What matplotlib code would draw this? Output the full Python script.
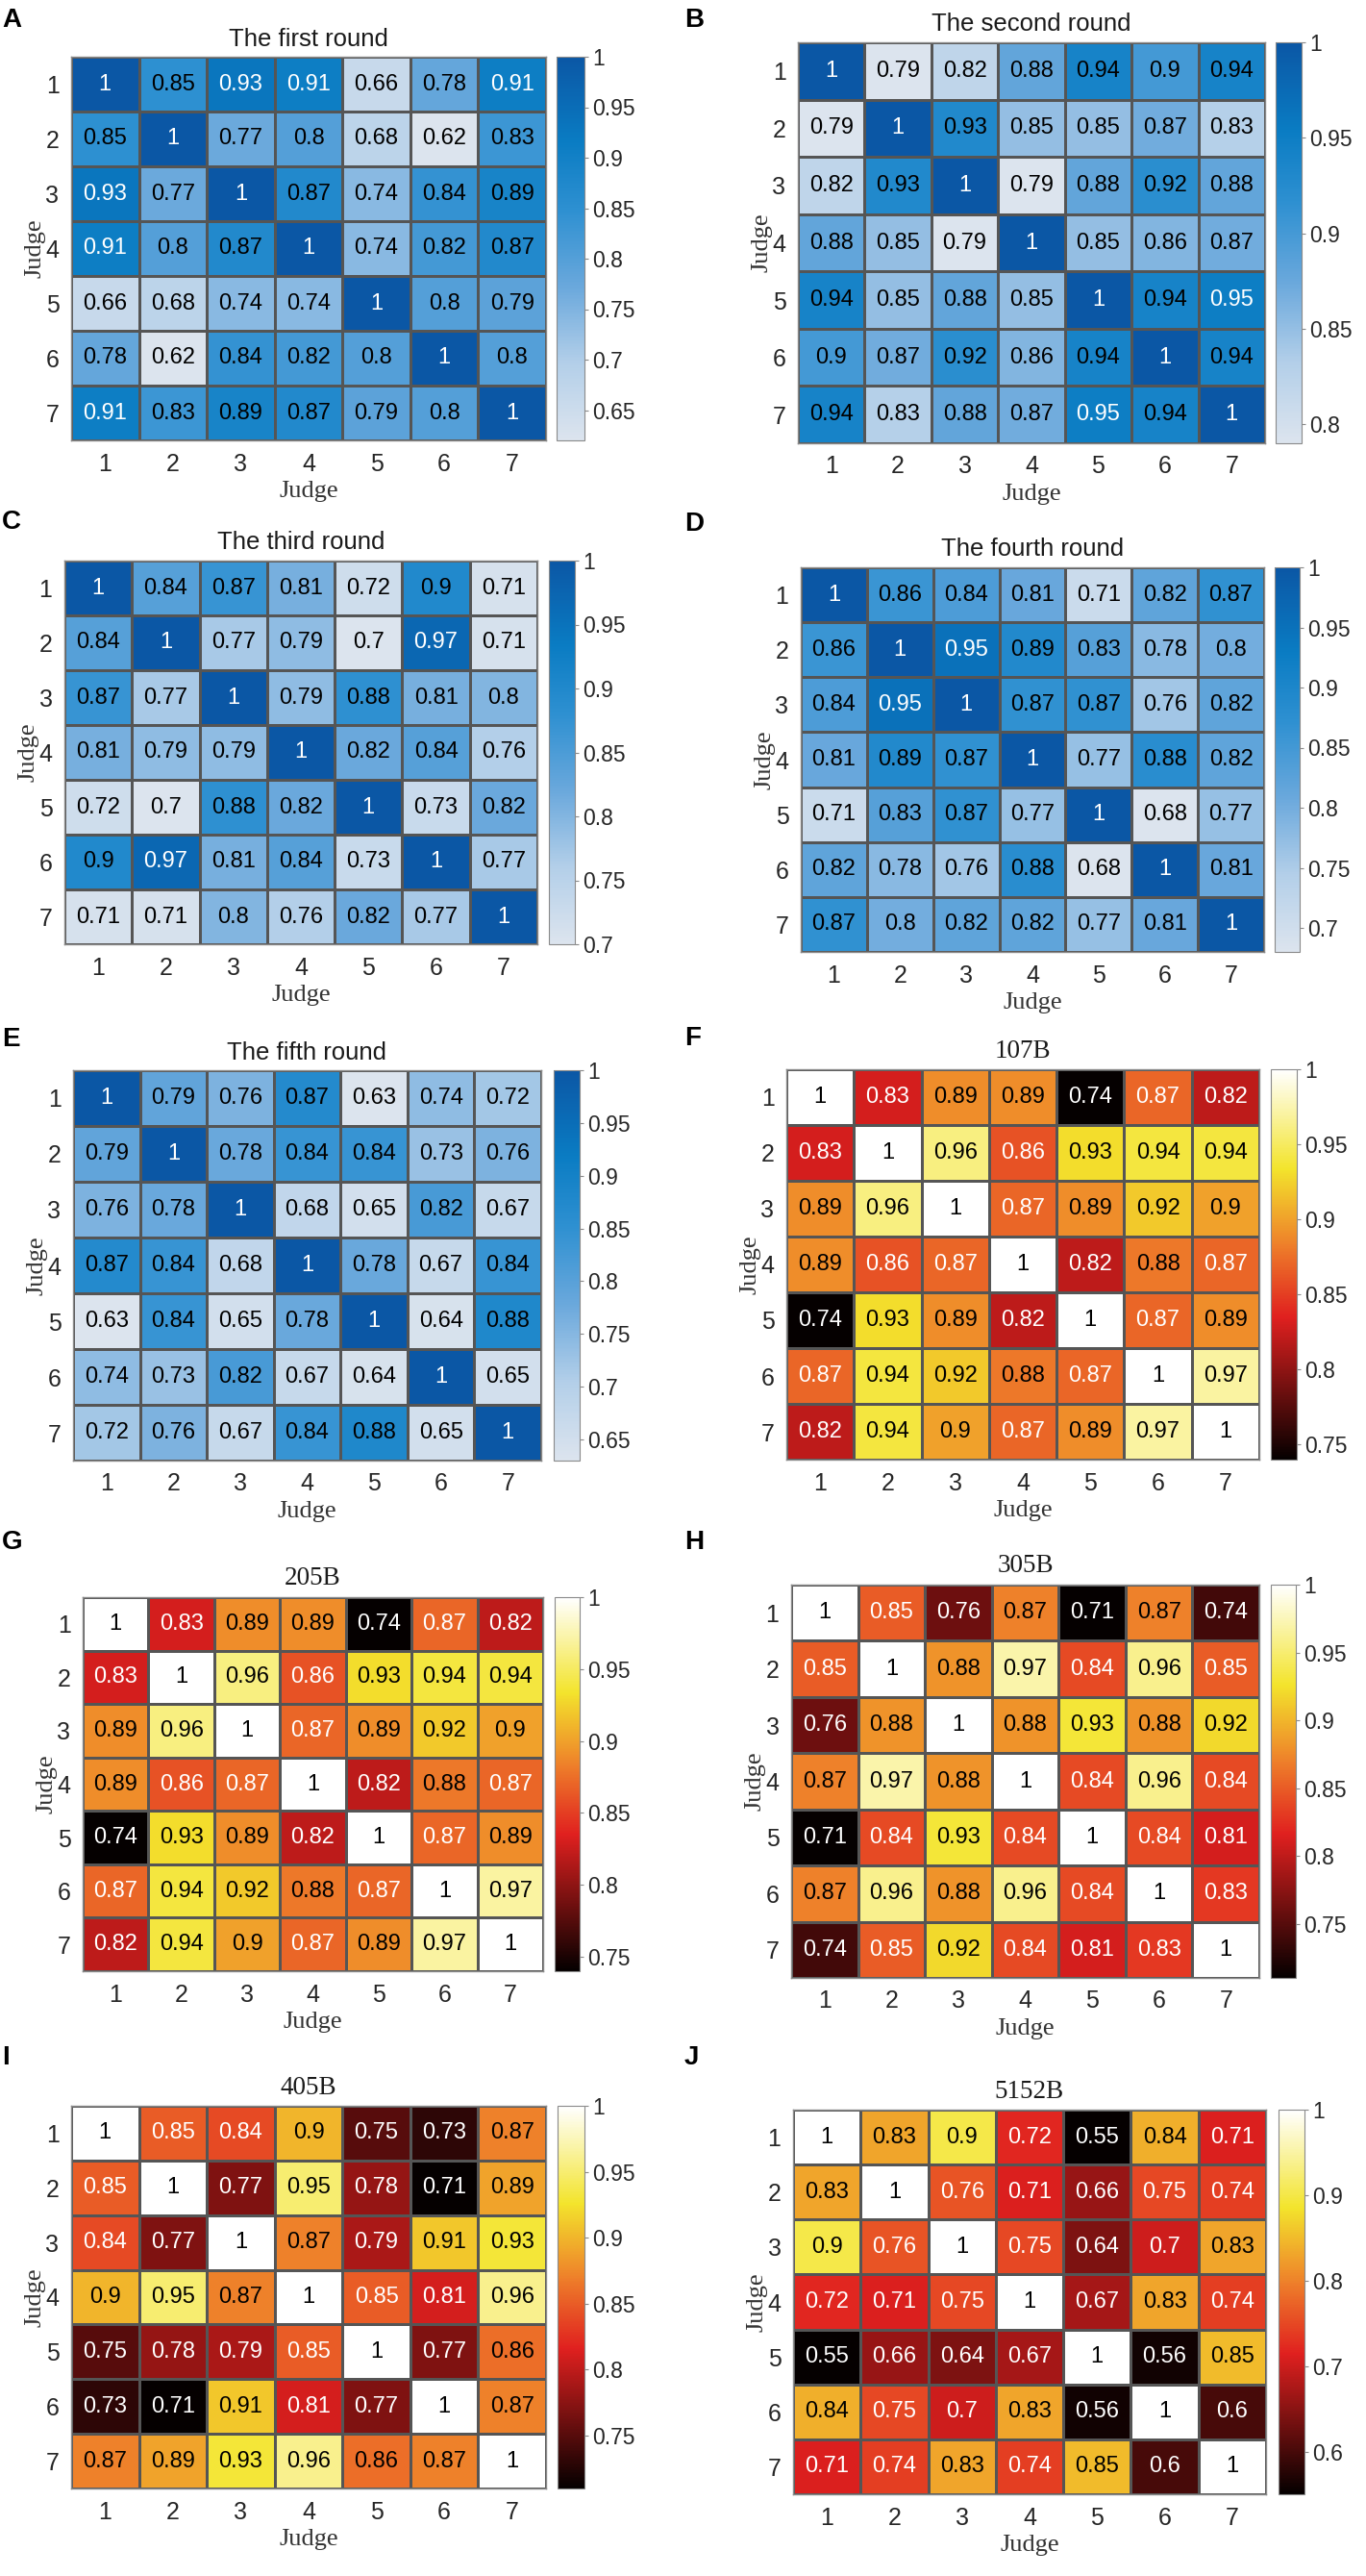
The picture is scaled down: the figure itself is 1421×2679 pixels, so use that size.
import numpy as np
import matplotlib
matplotlib.use("Agg")
import matplotlib.pyplot as plt
from matplotlib.colors import LinearSegmentedColormap
from matplotlib.ticker import MultipleLocator, FormatStrFormatter

judges = [1, 2, 3, 4, 5, 6, 7]

round1 = [[1, 0.85, 0.93, 0.91, 0.66, 0.78, 0.91],
          [0.85, 1, 0.77, 0.8, 0.68, 0.62, 0.83],
          [0.93, 0.77, 1, 0.87, 0.74, 0.84, 0.89],
          [0.91, 0.8, 0.87, 1, 0.74, 0.82, 0.87],
          [0.66, 0.68, 0.74, 0.74, 1, 0.8, 0.79],
          [0.78, 0.62, 0.84, 0.82, 0.8, 1, 0.8],
          [0.91, 0.83, 0.89, 0.87, 0.79, 0.8, 1]]

round2 = [[1, 0.79, 0.82, 0.88, 0.94, 0.9, 0.94],
          [0.79, 1, 0.93, 0.85, 0.85, 0.87, 0.83],
          [0.82, 0.93, 1, 0.79, 0.88, 0.92, 0.88],
          [0.88, 0.85, 0.79, 1, 0.85, 0.86, 0.87],
          [0.94, 0.85, 0.88, 0.85, 1, 0.94, 0.95],
          [0.9, 0.87, 0.92, 0.86, 0.94, 1, 0.94],
          [0.94, 0.83, 0.88, 0.87, 0.95, 0.94, 1]]

round3 = [[1, 0.84, 0.87, 0.81, 0.72, 0.9, 0.71],
          [0.84, 1, 0.77, 0.79, 0.7, 0.97, 0.71],
          [0.87, 0.77, 1, 0.79, 0.88, 0.81, 0.8],
          [0.81, 0.79, 0.79, 1, 0.82, 0.84, 0.76],
          [0.72, 0.7, 0.88, 0.82, 1, 0.73, 0.82],
          [0.9, 0.97, 0.81, 0.84, 0.73, 1, 0.77],
          [0.71, 0.71, 0.8, 0.76, 0.82, 0.77, 1]]

round4 = [[1, 0.86, 0.84, 0.81, 0.71, 0.82, 0.87],
          [0.86, 1, 0.95, 0.89, 0.83, 0.78, 0.8],
          [0.84, 0.95, 1, 0.87, 0.87, 0.76, 0.82],
          [0.81, 0.89, 0.87, 1, 0.77, 0.88, 0.82],
          [0.71, 0.83, 0.87, 0.77, 1, 0.68, 0.77],
          [0.82, 0.78, 0.76, 0.88, 0.68, 1, 0.81],
          [0.87, 0.8, 0.82, 0.82, 0.77, 0.81, 1]]

round5 = [[1, 0.79, 0.76, 0.87, 0.63, 0.74, 0.72],
          [0.79, 1, 0.78, 0.84, 0.84, 0.73, 0.76],
          [0.76, 0.78, 1, 0.68, 0.65, 0.82, 0.67],
          [0.87, 0.84, 0.68, 1, 0.78, 0.67, 0.84],
          [0.63, 0.84, 0.65, 0.78, 1, 0.64, 0.88],
          [0.74, 0.73, 0.82, 0.67, 0.64, 1, 0.65],
          [0.72, 0.76, 0.67, 0.84, 0.88, 0.65, 1]]

s107b = [[1, 0.83, 0.89, 0.89, 0.74, 0.87, 0.82],
         [0.83, 1, 0.96, 0.86, 0.93, 0.94, 0.94],
         [0.89, 0.96, 1, 0.87, 0.89, 0.92, 0.9],
         [0.89, 0.86, 0.87, 1, 0.82, 0.88, 0.87],
         [0.74, 0.93, 0.89, 0.82, 1, 0.87, 0.89],
         [0.87, 0.94, 0.92, 0.88, 0.87, 1, 0.97],
         [0.82, 0.94, 0.9, 0.87, 0.89, 0.97, 1]]

s205b = [[1, 0.83, 0.89, 0.89, 0.74, 0.87, 0.82],
         [0.83, 1, 0.96, 0.86, 0.93, 0.94, 0.94],
         [0.89, 0.96, 1, 0.87, 0.89, 0.92, 0.9],
         [0.89, 0.86, 0.87, 1, 0.82, 0.88, 0.87],
         [0.74, 0.93, 0.89, 0.82, 1, 0.87, 0.89],
         [0.87, 0.94, 0.92, 0.88, 0.87, 1, 0.97],
         [0.82, 0.94, 0.9, 0.87, 0.89, 0.97, 1]]

s305b = [[1, 0.85, 0.76, 0.87, 0.71, 0.87, 0.74],
         [0.85, 1, 0.88, 0.97, 0.84, 0.96, 0.85],
         [0.76, 0.88, 1, 0.88, 0.93, 0.88, 0.92],
         [0.87, 0.97, 0.88, 1, 0.84, 0.96, 0.84],
         [0.71, 0.84, 0.93, 0.84, 1, 0.84, 0.81],
         [0.87, 0.96, 0.88, 0.96, 0.84, 1, 0.83],
         [0.74, 0.85, 0.92, 0.84, 0.81, 0.83, 1]]

s405b = [[1, 0.85, 0.84, 0.9, 0.75, 0.73, 0.87],
         [0.85, 1, 0.77, 0.95, 0.78, 0.71, 0.89],
         [0.84, 0.77, 1, 0.87, 0.79, 0.91, 0.93],
         [0.9, 0.95, 0.87, 1, 0.85, 0.81, 0.96],
         [0.75, 0.78, 0.79, 0.85, 1, 0.77, 0.86],
         [0.73, 0.71, 0.91, 0.81, 0.77, 1, 0.87],
         [0.87, 0.89, 0.93, 0.96, 0.86, 0.87, 1]]

s5152b = [[1, 0.83, 0.9, 0.72, 0.55, 0.84, 0.71],
          [0.83, 1, 0.76, 0.71, 0.66, 0.75, 0.74],
          [0.9, 0.76, 1, 0.75, 0.64, 0.7, 0.83],
          [0.72, 0.71, 0.75, 1, 0.67, 0.83, 0.74],
          [0.55, 0.66, 0.64, 0.67, 1, 0.56, 0.85],
          [0.84, 0.75, 0.7, 0.83, 0.56, 1, 0.6],
          [0.71, 0.74, 0.83, 0.74, 0.85, 0.6, 1]]

# colour maps
sky = LinearSegmentedColormap.from_list(
    "sky", [(0, "#dce4ee"), (0.2, "#b3cfe9"), (0.4, "#6aa8dc"),
            (0.6, "#2e90d1"), (0.78, "#0a7cc3"), (1, "#0b57a5")])
hot = LinearSegmentedColormap.from_list(
    "hot_soft", [(0, "#050000"), (0.365, "#e0201f"), (0.55, "#ee7f2a"),
                 (0.746, "#f3e42c"), (1, "#ffffff")])

SANS = "Liberation Sans"
SERIF = "Liberation Serif"

W, H = 1421, 2679
fig = plt.figure(figsize=(W / 100, H / 100), dpi=100)


def box(x0, y0, x1, y1):
    return [x0 / W, 1 - y1 / H, (x1 - x0) / W, (y1 - y0) / H]


def panel(letter, lxy, title, tfont, ty, vals, cmap, step, axpx, cbpx):
    m = np.array(vals, dtype=float)
    vmin, vmax = m.min(), m.max()
    ax = fig.add_axes(box(*axpx))
    n = len(judges)
    edges = np.arange(n + 1) + 0.5
    mesh = ax.pcolormesh(edges, edges, m, cmap=cmap, vmin=vmin, vmax=vmax,
                         edgecolors="#555555", linewidth=0.8)
    ax.set_xlim(0.5, n + 0.5)
    ax.set_ylim(n + 0.5, 0.5)
    ax.set_xticks(judges)
    ax.set_yticks(judges)
    ax.set_xticklabels([str(j) for j in judges], fontfamily=SANS, fontsize=18)
    ax.set_yticklabels([str(j) for j in judges], fontfamily=SANS, fontsize=18)
    ax.tick_params(length=0, colors="#262626", pad=9)
    for sp in ax.spines.values():
        sp.set_color("#8a8a8a")
        sp.set_linewidth(1.0)
    ax.set_xlabel("Judge", fontfamily=SERIF, fontsize=19, color="#333333", labelpad=4)
    ax.set_ylabel("Judge", fontfamily=SERIF, fontsize=19, color="#333333", labelpad=0)

    for i in range(n):
        for j in range(n):
            v = m[i, j]
            t = (v - vmin) / (vmax - vmin)
            if cmap is hot:
                col = "white" if t < 0.51 else "black"
            else:
                col = "white" if t > 0.75 else "black"
            ax.text(judges[j], judges[i], "%g" % v, ha="center", va="center",
                    fontfamily=SANS, fontsize=17, color=col)

    cax = fig.add_axes(box(cbpx[0], axpx[1], cbpx[1], axpx[3]))
    cb = fig.colorbar(mesh, cax=cax)
    cb.outline.set_edgecolor("#8a8a8a")
    cb.locator = MultipleLocator(step)
    cb.update_ticks()
    cax.yaxis.set_major_formatter(FormatStrFormatter("%g"))
    cax.tick_params(length=3, width=0.8, colors="#8a8a8a", labelcolor="#262626",
                    labelsize=16.5, pad=3)
    for lab in cax.get_yticklabels():
        lab.set_fontfamily(SANS)

    cx = (axpx[0] + axpx[2]) / 2 / W
    fig.text(cx, 1 - ty / H, title, ha="center", va="center",
             fontfamily=tfont, fontsize=19.5 if tfont == SERIF else 18.5, color="#1a1a1a")
    fig.text(lxy[0] / W, 1 - lxy[1] / H, letter, ha="left", va="center",
             fontfamily=SANS, fontweight="bold", fontsize=20)


panel("A", (2, 21), "The first round", SANS, 41, round1, sky, 0.05,
      (74, 59, 568, 458), (579, 608))
panel("B", (712, 21), "The second round", SANS, 25, round2, sky, 0.05,
      (830, 44, 1316, 461), (1327, 1354))
panel("C", (2, 543), "The third round", SANS, 564, round3, sky, 0.05,
      (67, 583, 559, 982), (571, 598))
panel("D", (712, 545), "The fourth round", SANS, 571, round4, sky, 0.05,
      (833, 590, 1315, 990), (1326, 1352))
panel("E", (2, 1081), "The fifth round", SANS, 1095, round5, sky, 0.05,
      (76, 1113, 563, 1519), (576, 603))
panel("F", (712, 1080), "107B", SERIF, 1093, s107b, hot, 0.05,
      (818, 1112, 1310, 1518), (1322, 1349))
panel("G", (2, 1604), "205B", SERIF, 1641, s205b, hot, 0.05,
      (86, 1661, 565, 2050), (577, 603))
panel("H", (712, 1604), "305B", SERIF, 1629, s305b, hot, 0.05,
      (823, 1648, 1310, 2057), (1322, 1348))
panel("I", (2, 2140), "405B", SERIF, 2171, s405b, hot, 0.05,
      (74, 2190, 568, 2588), (580, 608))
panel("J", (712, 2140), "5152B", SERIF, 2176, s5152b, hot, 0.1,
      (825, 2194, 1317, 2594), (1330, 1357))

fig.savefig("out.png", dpi=100, facecolor="white")
